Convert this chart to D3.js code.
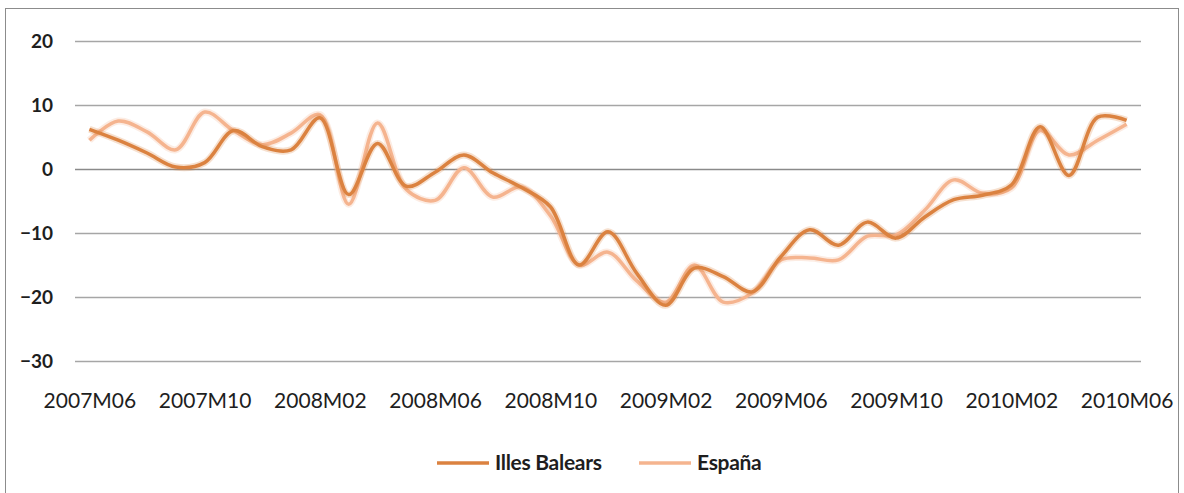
<!DOCTYPE html>
<html>
<head>
<meta charset="utf-8">
<title>Illes Balears vs España</title>
<script src="https://d3js.org/d3.v7.min.js"></script>
<style>
  body { margin: 0; background: #fff; }
  text { font-family: Lato, "Open Sans", sans-serif; fill: #1e1e1e; }
</style>
</head>
<body>
<script>
var w = 1184, h = 493;

var months = ["2007M06","2007M07","2007M08","2007M09","2007M10","2007M11","2007M12",
  "2008M01","2008M02","2008M03","2008M04","2008M05","2008M06","2008M07","2008M08","2008M09",
  "2008M10","2008M11","2008M12","2009M01","2009M02","2009M03","2009M04","2009M05","2009M06",
  "2009M07","2009M08","2009M09","2009M10","2009M11","2009M12","2010M01","2010M02","2010M03",
  "2010M04","2010M05","2010M06"];

var balears = [6.2, 4.5, 2.5, 0.3, 1.0, 6.0, 3.5, 3.0, 8.0, -4.0, 4.0, -2.7, -0.5, 2.2, -0.6,
  -2.9, -5.9, -15.0, -9.8, -16.3, -21.3, -15.5, -16.8, -19.2, -13.7, -9.5, -11.9, -8.3, -10.8,
  -7.5, -4.8, -4.1, -2.5, 6.6, -1.0, 8.1, 7.6];

var espana = [4.5, 7.5, 5.8, 3.0, 8.9, 6.0, 3.8, 5.6, 8.5, -5.5, 7.2, -3.2, -4.9, 0.2, -4.4,
  -2.8, -7.3, -15.0, -13.0, -17.5, -20.8, -15.0, -20.8, -19.4, -14.2, -13.9, -14.2, -10.5,
  -10.3, -6.4, -1.7, -3.8, -3.0, 6.0, 2.2, 4.5, 7.0];

var yTicks = [-30, -20, -10, 0, 10, 20];
var seriesNames = ["Illes Balears", "España"];
var seriesColors = ["#db8240", "#f5b48f"];

var svg = d3.select("body").append("svg")
  .attr("width", w)
  .attr("height", h);

// chart border
svg.append("rect")
  .attr("x", 5.5).attr("y", 8.5)
  .attr("width", 1173).attr("height", 490)
  .attr("fill", "none")
  .attr("stroke", "#8c8c8c");

var x = d3.scalePoint().domain(months).range([75, 1141]).padding(0.5);
var y = d3.scaleLinear().domain([-30, 20]).range([361, 41]);

// gridlines
svg.append("g").selectAll("line")
  .data(yTicks).enter().append("line")
  .attr("x1", 75).attr("x2", 1141)
  .attr("y1", function (d) { return y(d) + 0.5; })
  .attr("y2", function (d) { return y(d) + 0.5; })
  .attr("stroke", function (d) { return d === 0 ? "#8a8a8a" : "#a6a6a6"; })
  .attr("stroke-width", 1.3);

var yAxis = svg.append("g")
  .attr("transform", "translate(75,0)")
  .call(d3.axisLeft(y).tickValues(yTicks).tickSize(0).tickPadding(22));
yAxis.select(".domain").remove();
yAxis.selectAll("text").style("font-size", "19px").style("font-weight", "bold");

var xAxis = svg.append("g")
  .attr("transform", "translate(0,390)")
  .call(d3.axisBottom(x)
    .tickValues(months.filter(function (d, i) { return i % 4 === 0; }))
    .tickSize(0));
xAxis.select(".domain").remove();
xAxis.selectAll("text").style("font-size", "21px");

var line = d3.line()
  .x(function (d, i) { return x(months[i]); })
  .y(function (d) { return y(d); })
  .curve(d3.curveCatmullRom.alpha(0.5));

var data = [balears, espana];
// draw España first so Balears sits on top
[1, 0].forEach(function (k) {
  svg.append("path")
    .datum(data[k])
    .attr("d", line)
    .attr("fill", "none")
    .attr("stroke", seriesColors[k])
    .attr("stroke-opacity", 0.25)
    .attr("stroke-width", 7);
  svg.append("path")
    .datum(data[k])
    .attr("d", line)
    .attr("fill", "none")
    .attr("stroke", seriesColors[k])
    .attr("stroke-width", 3.5);
});

// legend
var legend = svg.append("g");
var legendX = [437, 639];
seriesNames.forEach(function (name, k) {
  legend.append("line")
    .attr("x1", legendX[k]).attr("x2", legendX[k] + 52)
    .attr("y1", 463).attr("y2", 463)
    .attr("stroke", seriesColors[k])
    .attr("stroke-width", 3.5);
  legend.append("text")
    .attr("x", legendX[k] + 58).attr("y", 463)
    .attr("dy", "0.35em")
    .style("font-size", "21px")
    .style("font-weight", "bold")
    .style("letter-spacing", "-0.3px")
    .text(name);
});
</script>
</body>
</html>
